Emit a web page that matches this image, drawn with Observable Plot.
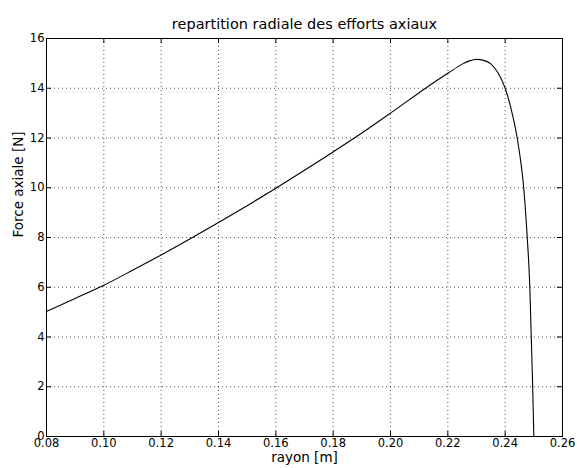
<!DOCTYPE html>
<html>
<head>
<meta charset="utf-8">
<script src="https://cdn.jsdelivr.net/npm/d3@7"></script>
<script src="https://cdn.jsdelivr.net/npm/@observablehq/plot@0.6"></script>
<style>
  html, body { margin: 0; padding: 0; background: #fff; }
</style>
</head>
<body>
<div id="chart"></div>
<script>
const rayon = [0.08, 0.09, 0.10, 0.11, 0.12, 0.13, 0.14, 0.15, 0.16, 0.17, 0.18, 0.19, 0.20, 0.21, 0.215, 0.22, 0.225, 0.2275, 0.23, 0.2325, 0.235, 0.2375, 0.24, 0.242, 0.2442, 0.2455, 0.2463, 0.2477, 0.2486, 0.2491, 0.2496, 0.25];
const force = [5.03, 5.55, 6.08, 6.68, 7.3, 7.94, 8.6, 9.28, 9.98, 10.7, 11.44, 12.2, 13.0, 13.82, 14.22, 14.6, 14.97, 15.1, 15.16, 15.12, 14.98, 14.62, 14.0, 13.2, 12.0, 11.0, 10.2, 8.0, 6.0, 4.0, 2.0, 0];
const xTicks = [0.08, 0.10, 0.12, 0.14, 0.16, 0.18, 0.20, 0.22, 0.24, 0.26];
const yTicks = [0, 2, 4, 6, 8, 10, 12, 14, 16];
const title = "repartition radiale des efforts axiaux";
const xLabel = "rayon [m]";
const yLabel = "Force axiale [N]";

const data = rayon.map((r, i) => ({r, f: force[i]}));

const W = 577, H = 468;
const mL = 46, mR = 15, mT = 38, mB = 32;
const fw = W - mL - mR, fh = H - mT - mB;
const tick = 5;
const gridStyle = {stroke: "#000", strokeOpacity: 0.85, strokeWidth: 0.8, strokeDasharray: "1,3"};

const chart = Plot.plot({
  width: W,
  height: H,
  marginLeft: mL, marginRight: mR, marginTop: mT, marginBottom: mB,
  style: {fontFamily: "DejaVu Sans", fontSize: "11.5px", color: "#000", background: "#fff"},
  x: {domain: [0.08, 0.26]},
  y: {domain: [0, 16]},
  marks: [
    Plot.gridX(xTicks.slice(1, -1), gridStyle),
    Plot.gridY(yTicks.slice(1, -1), gridStyle),
    Plot.line(data, {x: "r", y: "f", stroke: "#000", strokeWidth: 1.1, curve: "monotone-x"}),
    Plot.tickX(xTicks, {x: d => d, stroke: "#000", insetTop: fh - tick}),
    Plot.tickX(xTicks, {x: d => d, stroke: "#000", insetBottom: fh - tick}),
    Plot.tickY(yTicks, {y: d => d, stroke: "#000", insetRight: fw - tick}),
    Plot.tickY(yTicks, {y: d => d, stroke: "#000", insetLeft: fw - tick}),
    Plot.frame({stroke: "#000", strokeWidth: 1}),
    Plot.axisX(xTicks, {tickSize: 0, tickPadding: 2, tickFormat: d3.format(".2f"), fontSize: 11.5, label: null}),
    Plot.axisY(yTicks, {tickSize: 0, tickPadding: 2, tickFormat: d => String(d), fontSize: 11.5, label: null}),
    Plot.text([title], {frameAnchor: "top", dy: -20, fontSize: 14.5, text: d => d}),
    Plot.text([xLabel], {frameAnchor: "bottom", dy: 25, fontSize: 13.5, text: d => d}),
    Plot.text([yLabel], {frameAnchor: "left", dx: -28, rotate: -90, fontSize: 13.5, text: d => d})
  ]
});
document.getElementById("chart").appendChild(chart);
</script>
</body>
</html>
